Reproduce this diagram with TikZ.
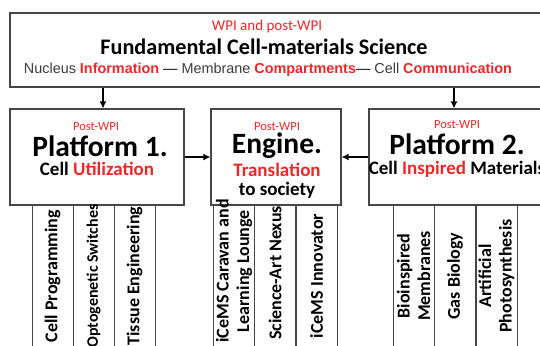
\documentclass[tikz,border=0pt]{standalone}
\usepackage{fontspec}
\setmainfont{Carlito}
\newfontfamily\arialfont{Liberation Sans}
\usetikzlibrary{arrows.meta}
\definecolor{wpired}{RGB}{238,40,40}
\definecolor{edge}{RGB}{70,70,70}
\definecolor{softblack}{RGB}{60,60,60}
\tikzset{
  box/.style={draw=edge, line width=1.1pt, fill=white, inner sep=0pt},
  col/.style={draw=edge, line width=1pt, minimum width=41pt, minimum height=142pt, inner sep=0pt},
  colText/.style={rotate=90, inner sep=0pt, align=center, font=\fontsize{18}{20.5}\selectfont\bfseries},
  arr/.style={-{Latex[length=7pt,width=7pt]}, line width=1.6pt},
  tag/.style={text=wpired, inner sep=0pt, font=\fontsize{12.5}{14}\selectfont},
  title/.style={inner sep=0pt, font=\fontsize{29.5}{32}\selectfont\bfseries},
  sub/.style={inner sep=0pt, font=\fontsize{19}{21}\selectfont\bfseries},
}

\begin{document}
\begin{tikzpicture}[x=1pt, y=-1pt]
\useasboundingbox (0,0) rectangle (540,345);
\clip (0,0) rectangle (540,345);

% fundamental science
\node[box, minimum width=550pt, minimum height=74pt] (top) at (285,50) {};
\node[text=wpired, inner sep=0pt, font=\fontsize{15}{17}\selectfont] (topTag) at (267,27) {WPI and post-WPI};
\node[inner sep=0pt, font=\fontsize{22.2}{24}\selectfont\bfseries] (topTitle) at (264,47) {Fundamental Cell-materials Science};
\node[inner sep=0pt, font=\arialfont\fontsize{14.4}{16}\selectfont, text=softblack] (topLine) at (268,70)
  {Nucleus \textbf{\color{wpired}Information} \textcolor{black}{—} Membrane \textbf{\color{wpired}Compartments}\textcolor{black}{—} Cell \textbf{\color{wpired}Communication}};

% platforms and engine
\node[box, minimum width=174pt, minimum height=96pt] (p1) at (97,157) {};
\node[box, minimum width=130pt, minimum height=96pt] (eng) at (276,157) {};
\node[box, minimum width=191pt, minimum height=96pt] (p2) at (464.5,157) {};

\node[tag] (p1Tag) at (96,127) {Post-WPI};
\node[title] (p1Title) at (100,146) {Platform 1.};
\node[sub] (p1Sub) at (97,169) {Cell \textcolor{wpired}{Utilization}};

\node[tag] (engTag) at (277,127) {Post-WPI};
\node[title] (engTitle) at (277,146) {Engine.};
\node[sub, text=wpired] (engSub) at (277,170) {Translation};
\node[sub] (engSub2) at (277,190) {to society};

\node[tag] (p2Tag) at (457,125) {Post-WPI};
\node[title] (p2Title) at (457,144) {Platform 2.};
\node[sub] (p2Sub) at (457,169) {Cell \textcolor{wpired}{Inspired} Materials};

% arrows
\coordinate (a1) at (103,0);
\coordinate (a2) at (454,0);
\draw[arr] (a1 |- top.south) -- (a1 |- p1.north);
\draw[arr] (a2 |- top.south) -- (a2 |- p2.north);
\draw[arr] (p1.east) -- (eng.west);
\draw[arr] (p2.west) -- (eng.east);

% columns
\node[col] (c11) at (52.5,276) {};
\node[col] (c12) at (93.5,276) {};
\node[col] (c13) at (134.5,276) {};
\node[col] (c21) at (234,276) {};
\node[col] (c22) at (275,276) {};
\node[col] (c23) at (316.5,276) {};
\node[col] (c31) at (413.5,276) {};
\node[col] (c32) at (455,276) {};
\node[col] (c33) at (496.5,276) {};

\node[colText] (t11) at (c11) {Cell Programming};
\node[colText, font=\fontsize{16}{18}\selectfont\bfseries] (t12) at (c12) {Optogenetic Switches};
\node[colText] (t13) at (c13) {Tissue Engineering};
\node[colText] (t21) at ([yshift=5pt]c21) {iCeMS Caravan and\\Learning Lounge};
\node[colText] (t22) at ([yshift=3pt]c22) {Science-Art Nexus};
\node[colText] (t23) at (c23) {iCeMS Innovator};
\node[colText] (t31) at (c31) {Bioinspired\\Membranes};
\node[colText] (t32) at (c32) {Gas Biology};
\node[colText] (t33) at (c33) {Artificial\\Photosynthesis};
\end{tikzpicture}
\end{document}
